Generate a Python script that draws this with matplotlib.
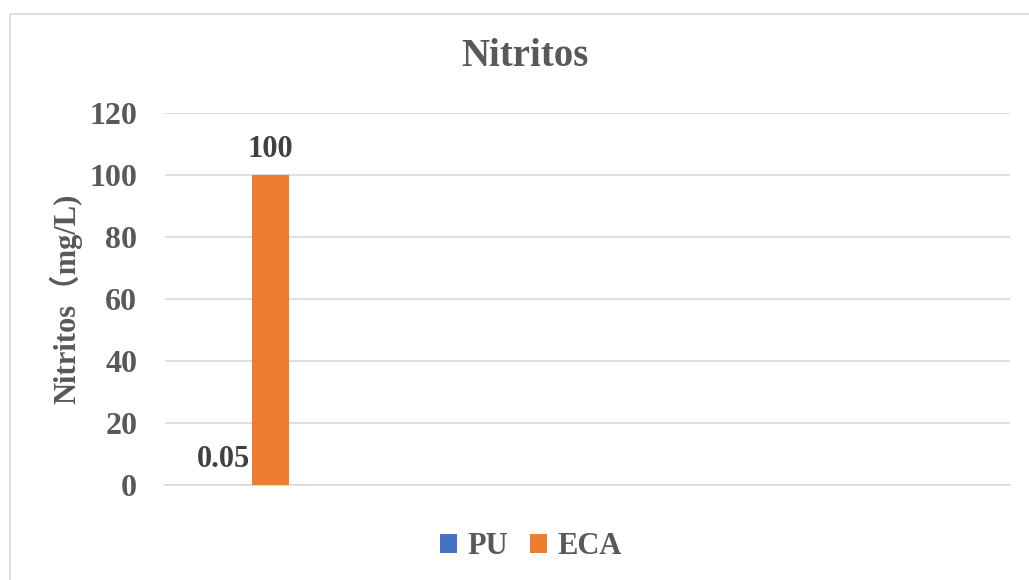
import numpy as np
import matplotlib.pyplot as plt
from matplotlib.patches import Rectangle

# nitrite readings, one sample point, two series
categories = ['', '', '', '', '']
pu_values = [0.05, np.nan, np.nan, np.nan, np.nan]
eca_values = [100, np.nan, np.nan, np.nan, np.nan]
y_ticks = [0, 20, 40, 60, 80, 100, 120]

serif = ['Liberation Serif', 'Noto Sans CJK SC', 'DejaVu Sans']
plt.rcParams['font.family'] = serif

fig = plt.figure(figsize=(10.29, 5.80), dpi=100)
ax = fig.add_axes([165/1029, 1 - 485/580, 845/1029, (485 - 113)/580])

# outer chart frame
fig.patches.append(Rectangle((10/1029, -0.1), 1.2, 1 - 14/580 + 0.1,
                             transform=fig.transFigure, fill=False,
                             edgecolor='#D9D9D9', linewidth=1.2))

x = np.arange(len(categories))
w = 0.219
b1 = ax.bar(x - w/2, pu_values, w, color='#4472C4', label='PU', zorder=3)
b2 = ax.bar(x + w/2, eca_values, w, color='#ED7D31', label='ECA', zorder=3)

# PU label sits a little left so it clears the ECA bar
shifts = {'PU': -7, 'ECA': 0}
for bars, vals, name in ((b1, pu_values, 'PU'), (b2, eca_values, 'ECA')):
    for r, v in zip(bars, vals):
        if np.isnan(v):
            continue
        ax.annotate(f'{v:g}', (r.get_x() + r.get_width()/2, v),
                    xytext=(shifts[name], 8), textcoords='offset points',
                    ha='center', va='bottom', fontsize=22, fontweight='bold',
                    color='#404040')

ax.set_xlim(-0.515, len(categories) - 0.515)
ax.set_ylim(0, 120)
ax.set_yticks(y_ticks)
ax.set_xticks([])
ax.yaxis.grid(True, color='#D9D9D9', linewidth=1.2, zorder=0)
for s in ('top', 'right', 'left'):
    ax.spines[s].set_visible(False)
ax.spines['bottom'].set_color('#D9D9D9')
ax.spines['bottom'].set_linewidth(1.2)
ax.tick_params(axis='y', length=0, pad=20, labelsize=23, labelcolor='#595959')
for t in ax.get_yticklabels():
    t.set_fontweight('bold')

ax.set_ylabel('Nitritos（mg/L)', fontsize=22, fontweight='bold',
              color='#595959', labelpad=5)
fig.text(525/1029, 1 - 57/580, 'Nitritos', ha='center', va='center',
         fontsize=28, fontweight='bold', color='#595959')

leg = fig.legend(loc='center', bbox_to_anchor=(531/1029, 1 - 547/580),
                 ncol=2, frameon=False, fontsize=22, handlelength=0.55,
                 handleheight=0.55, handletextpad=0.35, columnspacing=0.7)
for t in leg.get_texts():
    t.set_fontweight('bold')
    t.set_color('#595959')

fig.savefig('out.png', dpi=100)
